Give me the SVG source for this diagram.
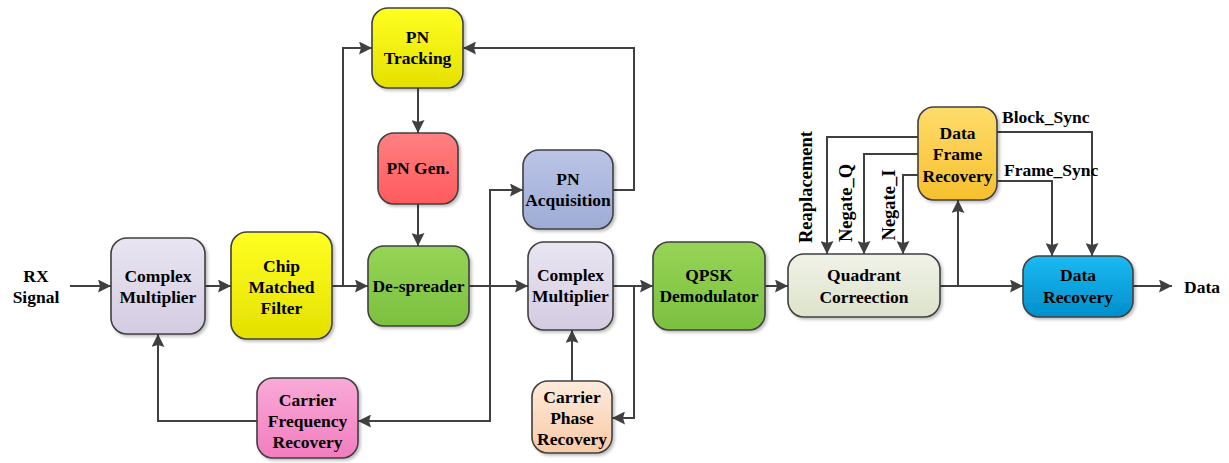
<svg xmlns="http://www.w3.org/2000/svg" width="1229" height="463" viewBox="0 0 1229 463">
<style>
.box{stroke:#404040;stroke-width:1.6}
.lbl{font-family:"Liberation Serif","Times New Roman",serif;font-weight:bold;font-size:17.5px;fill:#000;text-anchor:middle}
.sig{font-family:"Liberation Serif","Times New Roman",serif;font-weight:bold;font-size:17.5px;fill:#000}
.rot{font-family:"Liberation Serif","Times New Roman",serif;font-weight:bold;font-size:18.5px;fill:#000;text-anchor:middle}
.con path{fill:none;stroke:#404040;stroke-width:2}
.arr{marker-end:url(#ah)}
</style>
<defs>
<marker id="ah" viewBox="0 0 13 13" refX="13" refY="6.5" markerWidth="13" markerHeight="13" markerUnits="userSpaceOnUse" orient="auto">
<path d="M0,0 L13,6.5 L0,13 L2,6.5 Z" fill="#404040"/>
</marker>
<filter id="sh" x="-10%" y="-10%" width="130%" height="130%">
<feDropShadow dx="2" dy="2" stdDeviation="1.5" flood-color="#000" flood-opacity="0.25"/>
</filter>
<linearGradient id="gCM" x1="0" y1="0" x2="0" y2="1"><stop offset="0" stop-color="#e9e5f1"/><stop offset="1" stop-color="#d4cce2"/></linearGradient>
<linearGradient id="gY" x1="0" y1="0" x2="0" y2="1"><stop offset="0" stop-color="#ffff22"/><stop offset="1" stop-color="#e4e000"/></linearGradient>
<linearGradient id="gG" x1="0" y1="0" x2="0" y2="1"><stop offset="0" stop-color="#96d456"/><stop offset="1" stop-color="#7cc040"/></linearGradient>
<linearGradient id="gR" x1="0" y1="0" x2="0" y2="1"><stop offset="0" stop-color="#ff8080"/><stop offset="1" stop-color="#ff5a5e"/></linearGradient>
<linearGradient id="gB" x1="0" y1="0" x2="0" y2="1"><stop offset="0" stop-color="#bac5e6"/><stop offset="1" stop-color="#9eabd5"/></linearGradient>
<linearGradient id="gP" x1="0" y1="0" x2="0" y2="1"><stop offset="0" stop-color="#f9aad8"/><stop offset="1" stop-color="#f27dbf"/></linearGradient>
<linearGradient id="gO" x1="0" y1="0" x2="0" y2="1"><stop offset="0" stop-color="#fdebdc"/><stop offset="1" stop-color="#f8caa6"/></linearGradient>
<linearGradient id="gQ" x1="0" y1="0" x2="0" y2="1"><stop offset="0" stop-color="#f0f2e8"/><stop offset="1" stop-color="#dde3cb"/></linearGradient>
<linearGradient id="gD" x1="0" y1="0" x2="0" y2="1"><stop offset="0" stop-color="#fedc6c"/><stop offset="1" stop-color="#f6c02e"/></linearGradient>
<linearGradient id="gC" x1="0" y1="0" x2="0" y2="1"><stop offset="0" stop-color="#1cbaf2"/><stop offset="1" stop-color="#008fcc"/></linearGradient>
</defs>
<rect width="1229" height="463" fill="#fff"/>

<g id="connectors" class="con">
<path class="arr" d="M70 286 H111"/>
<path class="arr" d="M205 286 H231"/>
<path class="arr" d="M332 286 H368"/>
<path class="arr" d="M343 286 V48 H372"/>
<path class="arr" d="M418 88 V133"/>
<path class="arr" d="M418 204 V246"/>
<path class="arr" d="M469 286 H528"/>
<path class="arr" d="M490 286 V190 H523"/>
<path class="arr" d="M490 286 V421 H358"/>
<path class="arr" d="M257 421 H158 V334"/>
<path class="arr" d="M613 190 H634 V48 H463"/>
<path class="arr" d="M613 286 H653"/>
<path class="arr" d="M634 286 V418 H612"/>
<path class="arr" d="M572 381 V330"/>
<path class="arr" d="M765 286 H788"/>
<path class="arr" d="M918 137 H827 V254"/>
<path class="arr" d="M918 154 H864 V254"/>
<path class="arr" d="M918 175 H903 V254"/>
<path class="arr" d="M940 286 H1023"/>
<path class="arr" d="M958 286 V200"/>
<path class="arr" d="M997 132 H1092 V256"/>
<path class="arr" d="M997 181 H1052 V256"/>
<path class="arr" d="M1133 286 H1172"/>
</g>

<g id="labels">
<text class="sig" x="36" y="282" text-anchor="middle">RX</text>
<text class="sig" x="36" y="303" text-anchor="middle">Signal</text>
<text class="sig" x="1184" y="293">Data</text>
<text class="sig" x="1002" y="123">Block_Sync</text>
<text class="sig" x="1004" y="176">Frame_Sync</text>
<text class="rot" transform="translate(812 187) rotate(-90)">Reaplacement</text>
<text class="rot" transform="translate(852 203) rotate(-90)">Negate_Q</text>
<text class="rot" transform="translate(895 205) rotate(-90)">Negate_I</text>
</g>

<g id="cm1"><rect class="box" x="111" y="238" width="94" height="96" rx="16" fill="url(#gCM)" filter="url(#sh)"/>
<text class="lbl" x="158" y="282">Complex</text><text class="lbl" x="158" y="303">Multiplier</text></g>

<g id="cmf"><rect class="box" x="231" y="232" width="101" height="107" rx="16" fill="url(#gY)" filter="url(#sh)"/>
<text class="lbl" x="281.5" y="272">Chip</text><text class="lbl" x="281.5" y="293">Matched</text><text class="lbl" x="281.5" y="314">Filter</text></g>

<g id="pntrack"><rect class="box" x="372" y="8" width="91" height="80" rx="16" fill="url(#gY)" filter="url(#sh)"/>
<text class="lbl" x="417.5" y="43">PN</text><text class="lbl" x="417.5" y="64">Tracking</text></g>

<g id="pngen"><rect class="box" x="378" y="133" width="80" height="71" rx="16" fill="url(#gR)" filter="url(#sh)"/>
<text class="lbl" x="418" y="174">PN Gen.</text></g>

<g id="despreader"><rect class="box" x="368" y="246" width="101" height="80" rx="16" fill="url(#gG)" filter="url(#sh)"/>
<text class="lbl" x="418.5" y="292">De-spreader</text></g>

<g id="pnacq"><rect class="box" x="523" y="150" width="90" height="79" rx="16" fill="url(#gB)" filter="url(#sh)"/>
<text class="lbl" x="568" y="185">PN</text><text class="lbl" x="568" y="206">Acquisition</text></g>

<g id="cfr"><rect class="box" x="257" y="378" width="101" height="80" rx="16" fill="url(#gP)" filter="url(#sh)"/>
<text class="lbl" x="307.5" y="406">Carrier</text><text class="lbl" x="307.5" y="427">Frequency</text><text class="lbl" x="307.5" y="448">Recovery</text></g>

<g id="cm2"><rect class="box" x="528" y="242" width="85" height="88" rx="16" fill="url(#gCM)" filter="url(#sh)"/>
<text class="lbl" x="570.5" y="281">Complex</text><text class="lbl" x="570.5" y="302">Multiplier</text></g>

<g id="cpr"><rect class="box" x="532" y="381" width="80" height="72" rx="16" fill="url(#gO)" filter="url(#sh)"/>
<text class="lbl" x="572" y="403">Carrier</text><text class="lbl" x="572" y="424">Phase</text><text class="lbl" x="572" y="445">Recovery</text></g>

<g id="qpsk"><rect class="box" x="653" y="242" width="112" height="88" rx="16" fill="url(#gG)" filter="url(#sh)"/>
<text class="lbl" x="709" y="281">QPSK</text><text class="lbl" x="709" y="302">Demodulator</text></g>

<g id="qc"><rect class="box" x="788" y="254" width="152" height="63" rx="16" fill="url(#gQ)" filter="url(#sh)"/>
<text class="lbl" x="864" y="281">Quadrant</text><text class="lbl" x="864" y="303">Correection</text></g>

<g id="dfr"><rect class="box" x="918" y="107" width="79" height="93" rx="16" fill="url(#gD)" filter="url(#sh)"/>
<text class="lbl" x="957.5" y="139">Data</text><text class="lbl" x="957.5" y="160">Frame</text><text class="lbl" x="957.5" y="182">Recovery</text></g>

<g id="dr"><rect class="box" x="1023" y="256" width="110" height="61" rx="16" fill="url(#gC)" filter="url(#sh)"/>
<text class="lbl" x="1078" y="281">Data</text><text class="lbl" x="1078" y="303">Recovery</text></g>
</svg>
